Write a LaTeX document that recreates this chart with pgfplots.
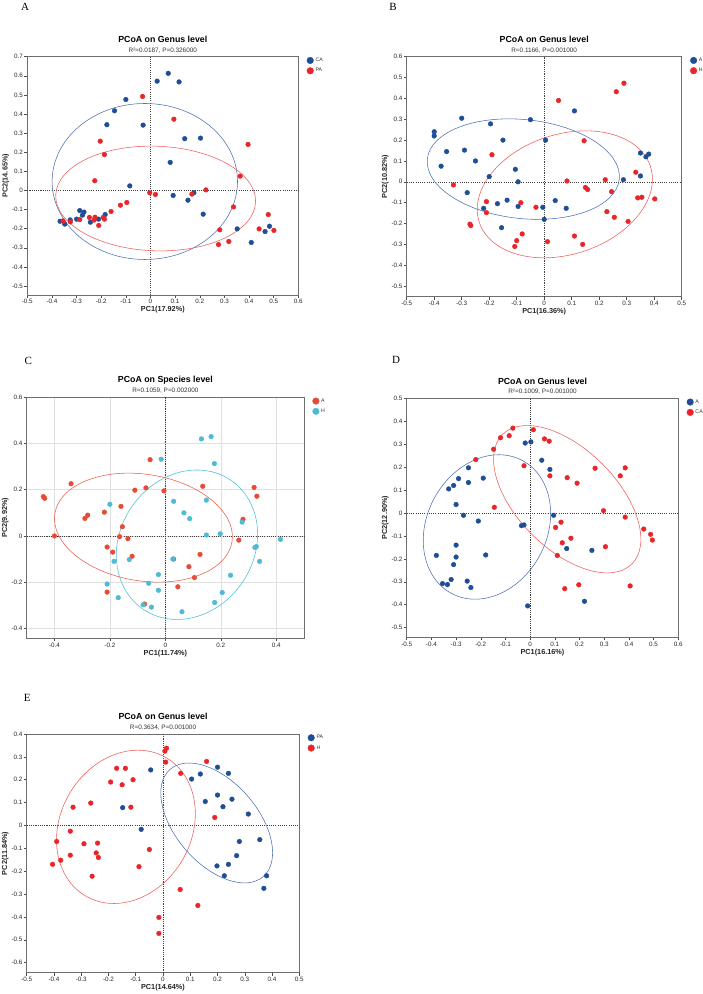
\documentclass[border=0pt]{standalone}
\usepackage{fontspec}
\setmainfont{Liberation Sans}
\newfontfamily\panelfont{Liberation Serif}
\usepackage{pgfplots}
\pgfplotsset{compat=1.18}

\definecolor{cblue}{HTML}{1F4E96}
\definecolor{cred}{HTML}{E8262A}
\definecolor{eblue}{HTML}{4D6FB2}
\definecolor{ered}{HTML}{EE5B5B}
\definecolor{nred}{HTML}{E64B35}
\definecolor{ncyan}{HTML}{4DBBD5}
\definecolor{framegray}{HTML}{6E6E6E}

% confidence ellipse: colour, centre x, centre y, angle, semi-axes (pt)
\newcommand{\confell}[6]{%
  \draw[#1, line width=0.55pt, shift={(axis cs:#2,#3)}, rotate=#4]
    (0pt,0pt) ellipse [x radius=#5pt, y radius=#6pt];}
\newcommand{\zerolines}{%
  \draw[zeroline] ({axis cs:0,0}|-{rel axis cs:0,0}) -- ({axis cs:0,0}|-{rel axis cs:0,1});
  \draw[zeroline] ({axis cs:0,0}-|{rel axis cs:0,0}) -- ({axis cs:0,0}-|{rel axis cs:1,0});}
\newcommand{\subtitle}[1]{%
  \node[font=\fontsize{6.4}{7}\selectfont, text=black!80] at ([yshift=6.5pt]axis description cs:0.5,1) {#1};}

\tikzset{zeroline/.style={black!75, line width=0.55pt, dash pattern=on 1.1pt off 1.1pt}}

\pgfplotsset{
  pcoa/.style={
    scale only axis,
    anchor=south west,
    clip=false,
    axis line style={draw=framegray, line width=0.6pt},
    tick align=outside, tick pos=left,
    major tick length=2.8pt,
    every tick/.style={black!70, line width=0.5pt},
    ticklabel style={font=\fontsize{6.3}{7}\selectfont, text=black!85, inner sep=1.3pt},
    /pgf/number format/assume math mode=true,
    /pgf/number format/fixed, /pgf/number format/precision=1,
    every axis x label/.style={at={([yshift=-15pt]axis description cs:0.5,0)}, anchor=center},
    every axis y label/.style={at={([xshift=-21.5pt]axis description cs:0,0.5)}, anchor=center, rotate=90},
    label style={font=\bfseries\fontsize{7.3}{8}\selectfont, text=black!85},
    every axis title/.style={at={([yshift=17.3pt]axis description cs:0.5,1)}, anchor=center,
      font=\bfseries\fontsize{8.8}{9}\selectfont},
    legend style={at={([xshift=8.4pt, yshift=1pt]axis description cs:1,1)}, anchor=north west,
      draw=none, fill=none, inner sep=0pt, row sep=1.2pt,
      font=\fontsize{5.2}{6}\selectfont, text=black!80,
      cells={anchor=west}},
    legend image code/.code={\draw[#1, mark size=3.3pt] plot coordinates {(3.3pt,0pt)};},
  },
  blueM/.style={only marks, mark=*, mark size=2.35pt, color=cblue, mark options={draw=none}},
  redM/.style={only marks, mark=*, mark size=2.35pt, color=cred, mark options={draw=none}},
  nredM/.style={only marks, mark=*, mark size=2.35pt, color=nred, mark options={draw=none}},
  ncyanM/.style={only marks, mark=*, mark size=2.35pt, color=ncyan, mark options={draw=none}},
}

\begin{document}
\begin{tikzpicture}
\path[use as bounding box] (0pt,-994pt) rectangle (703pt,0pt);

\node[font=\panelfont\fontsize{11}{12}\selectfont] at (25pt,-6.7pt) {A};
\node[font=\panelfont\fontsize{11}{12}\selectfont] at (393pt,-6.7pt) {B};
\node[font=\panelfont\fontsize{11}{12}\selectfont] at (28.3pt,-360.7pt) {C};
\node[font=\panelfont\fontsize{11}{12}\selectfont] at (396pt,-360pt) {D};
\node[font=\panelfont\fontsize{11}{12}\selectfont] at (27.3pt,-698.3pt) {E};

% ---------------- A ----------------
\begin{axis}[pcoa, at={(27.3pt,-295pt)}, width=271pt, height=238.3pt,
  xmin=-0.5, xmax=0.6, ymin=-0.547, ymax=0.7,
  xtick={-0.5,-0.4,-0.3,-0.2,-0.1,0,0.1,0.2,0.3,0.4,0.5,0.6},
  ytick={-0.5,-0.4,-0.3,-0.2,-0.1,0,0.1,0.2,0.3,0.4,0.5,0.6,0.7},
  title={PCoA on Genus level}, xlabel={PC1(17.92\%)}, ylabel={PC2(14.65\%)}]
\zerolines
\confell{eblue}{-0.023}{0.047}{0}{92.7}{78}
\confell{ered}{0.021}{-0.042}{-2}{100}{52.3}
\addplot[blueM] coordinates {
(0.072,0.613) (0.027,0.572) (0.116,0.568) (-0.100,0.476) (-0.146,0.417)
(-0.177,0.344) (-0.030,0.342) (0.139,0.271) (0.203,0.274) (0.080,0.147)
(-0.084,0.024) (0.092,-0.026) (0.176,-0.012) (0.152,-0.051) (0.214,-0.124)
(0.352,-0.201) (0.409,-0.272) (0.465,-0.215) (0.483,-0.187) (-0.367,-0.161)
(-0.348,-0.176) (-0.326,-0.154) (-0.300,-0.150) (-0.287,-0.105) (-0.276,-0.129)
(-0.270,-0.113) (-0.244,-0.166) (-0.211,-0.150) (-0.184,-0.126)};
\addlegendentry{CA}
\addplot[redM] coordinates {
(-0.032,0.492) (0.095,0.373) (-0.204,0.258) (-0.187,0.188) (0.396,0.241)
(0.364,0.075) (-0.226,0.051) (-0.003,-0.012) (0.020,-0.021) (0.168,-0.019)
(0.225,0.003) (0.337,-0.086) (0.281,-0.206) (0.276,-0.283) (0.318,-0.267)
(0.441,-0.201) (0.478,-0.126) (0.501,-0.209) (-0.096,-0.063) (-0.122,-0.077)
(-0.160,-0.110) (-0.187,-0.150) (-0.192,-0.141) (-0.210,-0.183) (-0.225,-0.140)
(-0.229,-0.155) (-0.248,-0.141) (-0.287,-0.152) (-0.325,-0.164) (-0.355,-0.159)};
\addlegendentry{PA}
\subtitle{R²=0.0187, P=0.326000}
\end{axis}

% ---------------- B ----------------
\begin{axis}[pcoa, at={(406.7pt,-296.7pt)}, width=275pt, height=240pt,
  xmin=-0.5, xmax=0.5, ymin=-0.551, ymax=0.6,
  xtick={-0.5,-0.4,-0.3,-0.2,-0.1,0,0.1,0.2,0.3,0.4,0.5},
  ytick={-0.5,-0.4,-0.3,-0.2,-0.1,0,0.1,0.2,0.3,0.4,0.5,0.6},
  title={PCoA on Genus level}, xlabel={PC1(16.36\%)}, ylabel={PC2(10.82\%)}]
\zerolines
\confell{eblue}{-0.076}{0.061}{-6}{96.5}{49.5}
\confell{ered}{0.075}{-0.06}{18}{90}{60}
\addplot[blueM] coordinates {
(-0.40,0.24) (-0.40,0.22) (-0.30,0.305) (-0.355,0.145) (-0.375,0.075)
(-0.29,0.152) (-0.195,0.278) (-0.15,0.20) (-0.25,0.10) (-0.05,0.298)
(0.11,0.34) (0.005,0.20) (-0.105,0.06) (-0.20,0.025) (-0.095,0.0)
(-0.28,-0.052) (-0.135,-0.088) (-0.17,-0.105) (-0.095,-0.118) (-0.22,-0.127)
(-0.155,-0.22) (-0.005,-0.122) (0.04,-0.09) (0.08,-0.127) (0.0,-0.18)
(0.288,0.01) (0.35,0.138) (0.37,0.12) (0.38,0.133) (0.35,0.028)};
\addlegendentry{A}
\addplot[redM] coordinates {
(0.29,0.473) (0.262,0.432) (0.052,0.39) (0.145,0.197) (-0.19,0.13)
(-0.33,-0.015) (0.083,0.004) (0.15,-0.027) (0.158,-0.037) (0.222,0.01)
(0.245,-0.047) (0.333,0.046) (0.34,-0.077) (0.355,-0.074) (0.402,-0.082)
(0.305,-0.19) (0.255,-0.17) (0.228,-0.143) (-0.21,-0.095) (-0.085,-0.10)
(-0.03,-0.122) (-0.21,-0.148) (-0.27,-0.203) (-0.267,-0.21) (-0.08,-0.25)
(-0.1,-0.282) (-0.107,-0.31) (0.012,-0.287) (0.11,-0.26) (0.14,-0.30)};
\addlegendentry{H}
\subtitle{R=0.1166, P=0.001000}
\end{axis}

% ---------------- C ----------------
\begin{axis}[pcoa, at={(26.7pt,-638.3pt)}, width=277.3pt, height=241pt,
  xmin=-0.5, xmax=0.5, ymin=-0.443, ymax=0.6,
  xtick={-0.4,-0.2,0,0.2,0.4}, ytick={-0.4,-0.2,0,0.2,0.4,0.6},
  grid=major, grid style={black!12, line width=0.5pt},
  title={PCoA on Species level}, xlabel={PC1(11.74\%)}, ylabel={PC2(9.92\%)}]
\zerolines
\confell{nred!90}{-0.079}{0.036}{-9}{89.7}{53.3}
\confell{ncyan}{0.078}{-0.038}{56}{78}{67}
\addplot[nredM] coordinates {
(-0.44,0.17) (-0.435,0.163) (-0.34,0.226) (-0.29,0.076) (-0.28,0.09)
(-0.22,0.103) (-0.16,0.128) (-0.11,0.198) (-0.07,0.208) (-0.055,0.33)
(-0.005,0.195) (-0.40,0.0) (-0.155,0.04) (-0.165,-0.003) (-0.135,-0.012)
(-0.21,-0.048) (-0.19,-0.07) (-0.12,-0.088) (-0.21,-0.243) (-0.075,-0.295)
(0.03,-0.1) (0.045,-0.22) (0.085,-0.133) (0.105,-0.18) (0.125,-0.08)
(0.135,0.215) (0.265,-0.018) (0.28,0.072) (0.32,0.21) (0.33,0.172)};
\addlegendentry{A}
\addplot[ncyanM] coordinates {
(0.13,0.42) (0.165,0.43) (0.177,0.313) (-0.015,0.332) (0.03,0.15)
(0.148,0.155) (0.067,0.1) (0.088,0.075) (0.148,0.004) (0.198,0.009)
(0.277,0.06) (0.415,-0.015) (0.323,-0.05) (0.328,-0.046) (0.34,-0.11)
(0.235,-0.17) (0.205,-0.245) (0.178,-0.288) (0.06,-0.328) (-0.05,-0.308)
(-0.08,-0.298) (-0.025,-0.235) (-0.06,-0.205) (-0.025,-0.167) (0.027,-0.1)
(-0.13,-0.102) (-0.185,-0.11) (-0.21,-0.208) (-0.17,-0.267) (-0.2,0.137)};
\addlegendentry{H}
\subtitle{R=0.1059, P=0.002000}
\end{axis}

% ---------------- D ----------------
\begin{axis}[pcoa, at={(406.7pt,-637.3pt)}, width=271.6pt, height=239pt,
  xmin=-0.5, xmax=0.6, ymin=-0.542, ymax=0.5,
  xtick={-0.5,-0.4,-0.3,-0.2,-0.1,0,0.1,0.2,0.3,0.4,0.5,0.6},
  ytick={-0.5,-0.4,-0.3,-0.2,-0.1,0,0.1,0.2,0.3,0.4,0.5},
  title={PCoA on Genus level}, xlabel={PC1(16.16\%)}, ylabel={PC2(12.90\%)}]
\zerolines
\confell{eblue}{-0.175}{-0.061}{62}{75.3}{60}
\confell{ered}{0.15}{0.06}{-45}{91.5}{49.8}
\addplot[blueM] coordinates {
(-0.02,0.305) (0.003,0.31) (0.047,0.23) (0.08,0.19) (-0.25,0.197)
(-0.29,0.15) (-0.19,0.152) (-0.25,0.133) (-0.31,0.12) (-0.33,0.105)
(-0.30,0.037) (-0.27,-0.01) (-0.21,-0.035) (0.095,-0.01) (-0.035,-0.055)
(-0.025,-0.052) (-0.30,-0.14) (-0.30,-0.192) (-0.38,-0.185) (-0.18,-0.183)
(-0.31,-0.225) (-0.32,-0.29) (-0.355,-0.308) (-0.335,-0.312) (-0.255,-0.297)
(-0.24,-0.325) (-0.01,-0.405) (0.148,-0.155) (0.25,-0.163) (0.22,-0.385)};
\addlegendentry{A}
\addplot[redM] coordinates {
(-0.07,0.37) (0.013,0.363) (-0.085,0.337) (-0.12,0.328) (-0.148,0.278)
(0.058,0.323) (0.077,0.313) (-0.22,0.233) (-0.025,0.206) (0.08,0.162)
(0.15,0.154) (0.19,0.13) (0.263,0.195) (0.365,0.162) (0.385,0.197)
(-0.145,0.025) (0.297,0.01) (0.385,-0.018) (0.125,-0.04) (0.103,-0.063)
(0.13,-0.13) (0.165,-0.11) (0.11,-0.185) (0.305,-0.147) (0.46,-0.07)
(0.488,-0.093) (0.495,-0.118) (0.14,-0.33) (0.197,-0.313) (0.405,-0.318)};
\addlegendentry{CA}
\subtitle{R²=0.1009, P=0.001000}
\end{axis}

% ---------------- E ----------------
\begin{axis}[pcoa, at={(26.7pt,-972.7pt)}, width=272.6pt, height=238.7pt,
  xmin=-0.5, xmax=0.5, ymin=-0.644, ymax=0.4,
  xtick={-0.5,-0.4,-0.3,-0.2,-0.1,0,0.1,0.2,0.3,0.4,0.5},
  ytick={-0.6,-0.5,-0.4,-0.3,-0.2,-0.1,0,0.1,0.2,0.3,0.4},
  title={PCoA on Genus level}, xlabel={PC1(14.64\%)}, ylabel={PC2(11.84\%)}]
\zerolines
\confell{ered}{-0.136}{-0.006}{60}{80}{65.5}
\confell{eblue}{0.197}{0.011}{-49}{71}{41}
\addplot[blueM] coordinates {
(-0.045,0.243) (-0.148,0.078) (-0.08,-0.017) (0.105,0.203) (0.137,0.225)
(0.2,0.255) (0.24,0.228) (0.2,0.133) (0.155,0.105) (0.22,0.082)
(0.253,0.115) (0.313,0.05) (0.28,-0.07) (0.355,-0.062) (0.27,-0.132)
(0.24,-0.17) (0.198,-0.177) (0.225,-0.22) (0.38,-0.22) (0.37,-0.275)};
\addlegendentry{PA}
\addplot[redM] coordinates {
(0.013,0.338) (0.007,0.325) (0.01,0.277) (0.16,0.28) (0.065,0.228)
(-0.17,0.25) (-0.138,0.25) (-0.11,0.2) (-0.192,0.19) (-0.15,0.178)
(-0.265,0.098) (-0.33,0.08) (-0.118,0.08) (0.19,0.035) (-0.34,-0.025)
(-0.39,-0.07) (-0.29,-0.08) (-0.24,-0.077) (-0.245,-0.12) (-0.237,-0.14)
(-0.34,-0.13) (-0.375,-0.152) (-0.405,-0.17) (-0.26,-0.222) (-0.088,-0.18)
(-0.05,-0.105) (0.063,-0.28) (0.128,-0.35) (-0.015,-0.402) (-0.015,-0.472)};
\addlegendentry{H}
\subtitle{R=0.3634, P=0.001000}
\end{axis}
\end{tikzpicture}
\end{document}
